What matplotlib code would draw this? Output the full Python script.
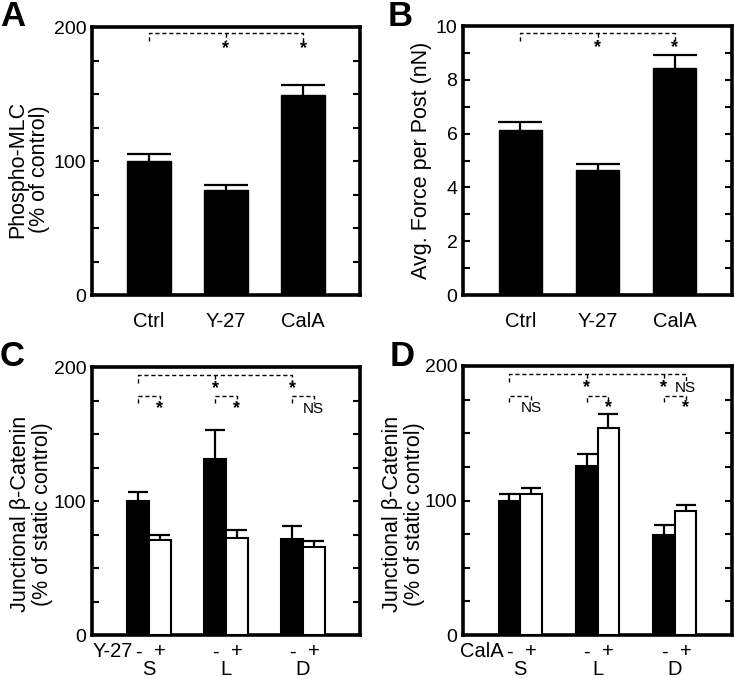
import numpy as np
import matplotlib
matplotlib.use("Agg")
import matplotlib.pyplot as plt
from matplotlib.ticker import MultipleLocator, NullFormatter
from matplotlib.transforms import blended_transform_factory

plt.rcParams['font.family'] = ['Liberation Sans', 'DejaVu Sans']

# ---- data ----
ab_cats = ["Ctrl", "Y-27", "CalA"]
mlc_vals = [100, 78, 149]
mlc_err = [5, 4, 8]
force_vals = [6.12, 4.66, 8.45]
force_err = [0.3, 0.2, 0.47]

cd_groups = ["S", "L", "D"]
y27_minus = [100, 131, 72]
y27_minus_err = [7, 22, 9]
y27_plus = [71, 72.5, 66]
y27_plus_err = [4, 6, 4.5]
cala_minus = [100, 126, 74]
cala_minus_err = [5, 8.5, 8]
cala_plus = [105, 154, 92]
cala_plus_err = [4.5, 10, 5]

W, H = 734, 679
fig = plt.figure(figsize=(W / 100, H / 100), dpi=100)


def make_ax(l, t, r, b):
    return fig.add_axes([l / W, 1 - b / H, (r - l) / W, (b - t) / H])


def style(ax, ymax, major, minor, ylabel, lx, ly):
    ax.set_ylim(0, ymax)
    ax.set_xlim(-0.74, 2.74)
    for s in ax.spines.values():
        s.set_linewidth(2.6)
    ax.yaxis.set_major_locator(MultipleLocator(major))
    ax.yaxis.set_minor_locator(MultipleLocator(minor))
    ax.yaxis.set_minor_formatter(NullFormatter())
    ax.tick_params(axis='y', which='both', direction='in', length=5, width=1.5,
                   left=True, right=True, labelsize=14, pad=4)
    ax.tick_params(axis='x', length=0, labelsize=14.5, pad=12)
    ax.set_ylabel(ylabel, fontsize=15.5, linespacing=1.1)
    ax.yaxis.set_label_coords(lx, ly)


def up_err(ax, x, vals, err, capw):
    eb = ax.errorbar(x, vals, yerr=[np.zeros(len(vals)), err], fmt='none', ecolor='black',
                     elinewidth=1.6, capsize=capw, capthick=1.6, zorder=1)
    eb.lines[1][0].set_visible(False)  # hide the lower caps


def bracket(ax, x0, x1, y, drop, ticks=()):
    kw = dict(color='black', lw=1.0, linestyle=(0, (3, 2)), clip_on=False)
    ax.plot([x0, x0, x1, x1], [y - drop, y, y, y - drop], **kw)
    for xt in ticks:
        ax.plot([xt, xt], [y, y - drop], **kw)


def star(ax, x, y):
    ax.text(x, y, "*", ha='center', va='center', fontsize=13, fontweight='bold')


def ns(ax, x, y):
    ax.text(x, y, "NS", ha='center', va='center', fontsize=11)


def single_bars(ax, vals, err):
    x = np.arange(len(vals))
    up_err(ax, x, vals, err, 15.5)
    ax.bar(x, vals, width=0.56, color='black', edgecolor='black', zorder=2)
    ax.set_xticks(x)
    ax.set_xticklabels(ab_cats)


def pair_bars(ax, v1, e1, v2, e2, drug):
    x = np.arange(len(v1))
    bw = 0.28
    up_err(ax, x - bw / 2, v1, e1, 7.2)
    up_err(ax, x + bw / 2, v2, e2, 7.2)
    ax.bar(x - bw / 2, v1, width=bw, color='black', edgecolor='black', lw=1.5, zorder=2)
    ax.bar(x + bw / 2, v2, width=bw, color='white', edgecolor='black', lw=1.5, zorder=3)
    ax.set_xticks([])
    tr = blended_transform_factory(ax.transData, ax.transAxes)
    for i, g in enumerate(cd_groups):
        ax.text(i - bw / 2, -0.063, "-", transform=tr, ha='center', va='center', fontsize=14.5)
        ax.text(i + bw / 2, -0.063, "+", transform=tr, ha='center', va='center', fontsize=14.5)
        ax.text(i, -0.13, g, transform=tr, ha='center', va='center', fontsize=14.5)
    ax.text(-0.21, -0.063, drug, transform=tr, ha='right', va='center', fontsize=14.5)


# ---- panel A ----
axA = make_ax(92, 27, 360, 295)
single_bars(axA, mlc_vals, mlc_err)
style(axA, 200, 100, 25, "Phospho-MLC\n(% of control)", -0.155, 0.47)
bracket(axA, 0, 2, 195.5, 6, ticks=[1])
star(axA, 1, 184)
star(axA, 2, 184)

# ---- panel B ----
axB = make_ax(463, 26, 732, 295)
single_bars(axB, force_vals, force_err)
style(axB, 10, 2, 1, "Avg. Force per Post (nN)", -0.115, 0.5)
bracket(axB, 0, 2, 9.73, 0.3, ticks=[1])
star(axB, 1, 9.2)
star(axB, 2, 9.2)

# ---- panel C ----
axC = make_ax(92, 367, 360, 635)
pair_bars(axC, y27_minus, y27_minus_err, y27_plus, y27_plus_err, "Y-27")
style(axC, 200, 100, 25, "Junctional β-Catenin\n(% of static control)", -0.145, 0.45)
bracket(axC, -0.14, 1.86, 194, 6, ticks=[0.86])
star(axC, 0.86, 184)
star(axC, 1.86, 184)
for g in range(3):
    bracket(axC, g - 0.14, g + 0.14, 178, 4.5)
star(axC, 0.14, 169)
star(axC, 1.14, 169)
ns(axC, 2.14, 169)

# ---- panel D ----
axD = make_ax(463, 366, 732, 635)
pair_bars(axD, cala_minus, cala_minus_err, cala_plus, cala_plus_err, "CalA")
style(axD, 200, 100, 25, "Junctional β-Catenin\n(% of static control)", -0.14, 0.45)
bracket(axD, -0.14, 2.14, 194, 6, ticks=[0.86, 1.86])
star(axD, 0.86, 184)
star(axD, 1.86, 184)
ns(axD, 2.14, 184)
for g in range(3):
    bracket(axD, g - 0.14, g + 0.14, 178, 4.5)
ns(axD, 0.14, 169)
star(axD, 1.14, 169)
star(axD, 2.14, 169)

# panel letters
for lbl, x, y in [("A", 0, 0), ("B", 388, 0), ("C", 0, 340), ("D", 390, 340)]:
    fig.text(x / W, 1 - y / H, lbl, ha='left', va='top', fontsize=25, fontweight='bold')

fig.savefig("out.png", dpi=100)
